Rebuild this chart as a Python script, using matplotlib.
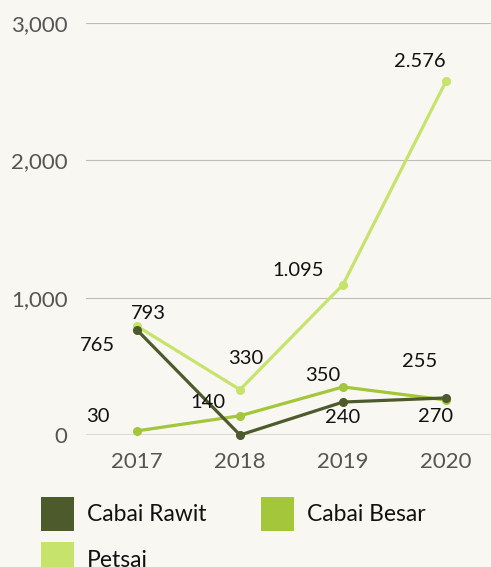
import matplotlib
matplotlib.use("Agg")
import matplotlib.pyplot as plt
from matplotlib.patches import Patch

years = ["2017", "2018", "2019", "2020"]
series_names = ["Cabai Rawit", "Cabai Besar", "Petsai"]
cabai_rawit = [765, 0, 240, 270]
cabai_besar = [30, 140, 350, 255]
petsai = [793, 330, 1095, 2576]
y_ticks = [0, 1000, 2000, 3000]

colors = {"Cabai Rawit": "#4d5a2c", "Cabai Besar": "#a4c63a", "Petsai": "#c6e36c"}
values = {"Cabai Rawit": cabai_rawit, "Cabai Besar": cabai_besar, "Petsai": petsai}
# label offsets in pixels, per series per point
offsets = {
    "Cabai Rawit": [(-40, -16), None, (0, -15), (-10, -19)],
    "Cabai Besar": [(-39, 14), (-32, 13), (-20, 11), (-26, 38)],
    "Petsai": [(11, 13), (6, 31), (-45, 14), (-26, 20)],
}
zorders = {"Cabai Rawit": 5, "Cabai Besar": 4, "Petsai": 3}

BG = "#f8f7f1"
FONT = "Lato"
plt.rcParams["font.family"] = [FONT, "DejaVu Sans"]

fig = plt.figure(figsize=(4.91, 5.67), dpi=100, facecolor=BG)
ax = fig.add_axes([85.5 / 491, (567 - 435) / 567, 412 / 491, 412 / 567])
ax.set_facecolor(BG)

x = list(range(len(years)))
for name in series_names:
    ax.plot(x, values[name], color=colors[name], lw=2.3, marker="o", ms=5.5,
            zorder=zorders[name], clip_on=False)

def fmt(v):
    return f"{v:,}".replace(",", ".")

for name in series_names:
    for i, v in enumerate(values[name]):
        off = offsets[name][i]
        if off is None:
            continue
        ax.annotate(fmt(v), (i, v), xytext=(off[0] * 0.72, off[1] * 0.72),
                    textcoords="offset points", ha="center", va="center",
                    fontsize=14.5, color="#111111", zorder=10)

ax.set_xlim(-0.5, 3.5)
ax.set_ylim(0, 3000)
ax.set_yticks(y_ticks)
ax.set_yticklabels([f"{t:,}" for t in y_ticks])
ax.set_xticks(x)
ax.set_xticklabels(years)
ax.tick_params(axis="both", length=0, labelsize=16, colors="#555555")
ax.tick_params(axis="y", pad=13)
ax.tick_params(axis="x", pad=12)
for t in y_ticks[1:]:
    ax.axhline(t, color="#bdbdbd", lw=0.8, zorder=1)
ax.axhline(0, color="#666666", lw=1.0, zorder=2)
for s in ax.spines.values():
    s.set_visible(False)

# column-wise fill: [Rawit, Petsai] in col 1, [Besar] in col 2
order = ["Cabai Rawit", "Petsai", "Cabai Besar"]
handles = [Patch(facecolor=colors[n], edgecolor="none", label=n) for n in order]
fig.legend(handles=handles, loc="upper left", bbox_to_anchor=(41 / 491, 1 - 497 / 567),
           ncol=2, frameon=False, fontsize=16.5, handlelength=1.44, handleheight=1.9,
           handletextpad=0.57, columnspacing=2.36, labelspacing=0.5, borderpad=0,
           borderaxespad=0, labelcolor="#111111")

fig.savefig("out.png", dpi=100, facecolor=BG)
